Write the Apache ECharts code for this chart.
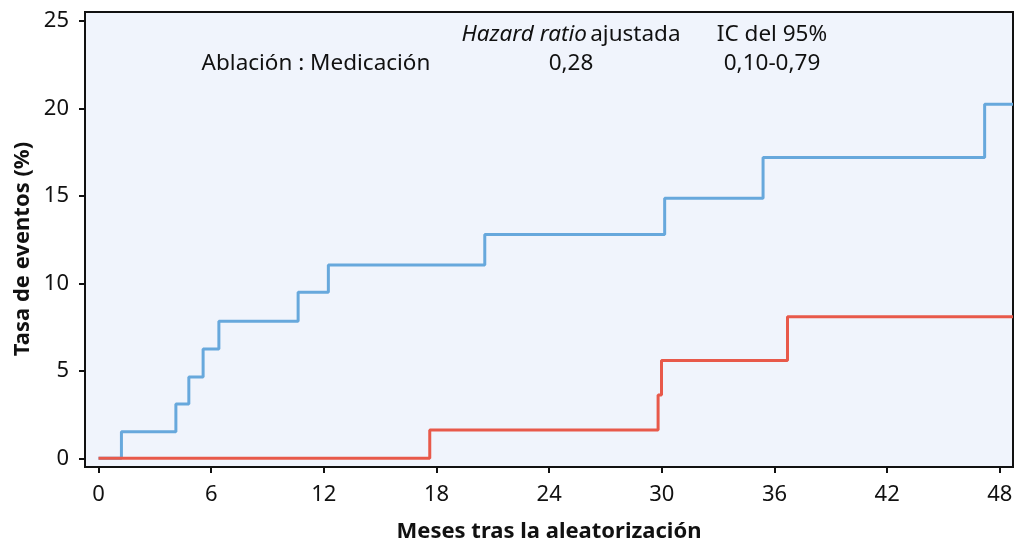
<!DOCTYPE html>
<html>
<head>
<meta charset="utf-8">
<script src="https://cdn.jsdelivr.net/npm/echarts@6/dist/echarts.min.js"></script>
<style>html,body{margin:0;padding:0;background:#fff}#c{width:1017px;height:542px}</style>
</head>
<body>
<div id="c"></div>
<script>
// Data (months, cumulative event rate %)
const medTimes = [0, 1.22, 4.12, 4.81, 5.57, 6.41, 10.63, 12.24, 20.57, 30.15, 35.39, 47.19, 48.7];
const medRates = [0, 1.52, 3.10, 4.65, 6.25, 7.83, 9.49, 11.05, 12.78, 14.86, 17.18, 20.23, 20.23];
const ablTimes = [0, 17.64, 29.80, 29.98, 36.69, 48.7];
const ablRates = [0, 1.62, 3.62, 5.58, 8.09, 8.09];
const xTicks = [0, 6, 12, 18, 24, 30, 36, 42, 48];
const yTicks = [0, 5, 10, 15, 20, 25];
const headerCols = ['Hazard ratio ajustada', 'IC del 95%'];
const rowLabel = 'Ablación : Medicación';
const rowValues = ['0,28', '0,10-0,79'];
const xTitle = 'Meses tras la aleatorización';
const yTitle = 'Tasa de eventos (%)';

const FONT = 'Noto Sans';
const FS = 22.5;
const chart = echarts.init(document.getElementById('c'));
const pair = (xs, ys) => xs.map((x, i) => [x, ys[i]]);
const txt = (x, y, text) => ({type: 'text', x: x, y: y, style: {text: text, fontFamily: FONT, fontSize: FS, fill: '#111', align: 'center', verticalAlign: 'middle'}});

chart.setOption({
  animation: false,
  grid: {left: 85, top: 12, right: 4, bottom: 75, containLabel: false, outerBoundsMode: 'none',
         show: true, backgroundColor: '#f0f4fc', borderColor: '#111', borderWidth: 2},
  xAxis: {
    type: 'value', min: -0.72, max: 48.7,
    name: xTitle, nameLocation: 'middle', nameGap: 54,
    nameTextStyle: {fontFamily: FONT, fontSize: 22, fontWeight: 'bold', color: '#111'},
    axisLine: {show: true, onZero: false, lineStyle: {color: '#111', width: 2}},
    axisTick: {show: true, length: 6, lineStyle: {color: '#111', width: 2}, customValues: xTicks},
    axisLabel: {fontFamily: FONT, fontSize: 22, color: '#111', margin: 17, customValues: xTicks},
    splitLine: {show: false}
  },
  yAxis: {
    type: 'value', min: -0.5, max: 25.5,
    axisLine: {show: true, onZero: false, lineStyle: {color: '#111', width: 2}},
    axisTick: {show: true, length: 6, lineStyle: {color: '#111', width: 2}, customValues: yTicks},
    axisLabel: {fontFamily: FONT, fontSize: 22, color: '#111', margin: 16, customValues: yTicks},
    splitLine: {show: false}
  },
  series: [
    {name: 'Medicación', type: 'line', step: 'end', data: pair(medTimes, medRates), showSymbol: false,
     lineStyle: {color: '#67a8dc', width: 3}, z: 2},
    {name: 'Ablación', type: 'line', step: 'end', data: pair(ablTimes, ablRates), showSymbol: false,
     lineStyle: {color: '#e8594a', width: 3}, z: 3}
  ],
  graphic: [
    {type: 'text', x: 571, y: 35, style: {rich: {i: {fontStyle: 'italic', fontFamily: FONT, fontSize: FS, fill: '#111'}, n: {fontFamily: FONT, fontSize: FS, fill: '#111'}},
      text: '{i|Hazard ratio} {n|ajustada}', align: 'center', verticalAlign: 'middle'}},
    txt(772, 35, headerCols[1]),
    txt(316, 64, rowLabel),
    txt(571, 64, rowValues[0]),
    txt(772, 64, rowValues[1]),
    {type: 'text', x: 23, y: 249, rotation: Math.PI / 2,
     style: {text: yTitle, fontFamily: FONT, fontSize: 22, fontWeight: 'bold', fill: '#111', align: 'center', verticalAlign: 'middle'}}
  ]
});
</script>
</body>
</html>
